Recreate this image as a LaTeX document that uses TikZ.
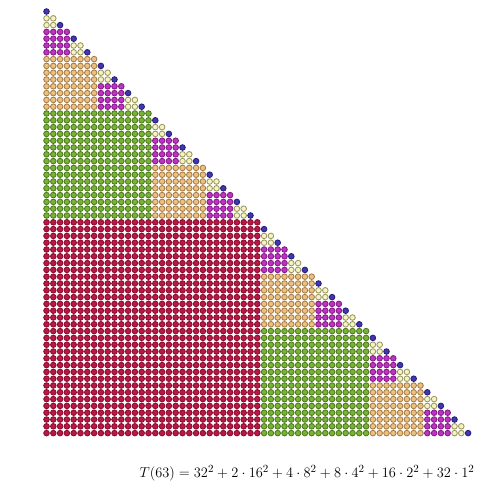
\documentclass[tikz,border=0pt]{standalone}
\definecolor{cRed}{HTML}{B81845}
\definecolor{cRedD}{HTML}{8A0C2E}
\definecolor{cGrn}{HTML}{7AB236}
\definecolor{cGrnD}{HTML}{4A7A1C}
\definecolor{cTan}{HTML}{EBC080}
\definecolor{cTanD}{HTML}{A67C46}
\definecolor{cMag}{HTML}{BC34C0}
\definecolor{cMagD}{HTML}{85188A}
\definecolor{cCrm}{HTML}{F5F3C0}
\definecolor{cCrmD}{HTML}{99975F}
\definecolor{cBlu}{HTML}{4138AE}
\definecolor{cBluD}{HTML}{261D80}
\tikzset{
  dotred/.style={fill=cRed,draw=cRedD,line width=0.85pt},
  dotgrn/.style={fill=cGrn,draw=cGrnD,line width=0.85pt},
  dottan/.style={fill=cTan,draw=cTanD,line width=0.85pt},
  dotmag/.style={fill=cMag,draw=cMagD,line width=0.85pt},
  dotcrm/.style={fill=cCrm,draw=cCrmD,line width=0.85pt},
  dotblu/.style={fill=cBlu,draw=cBluD,line width=0.85pt},
  eqtext/.style={inner sep=0pt,font=\fontsize{15}{18}\selectfont}
}
\begin{document}
\begin{tikzpicture}[x=1pt,y=-1pt]
\useasboundingbox (0,0) rectangle (500,499);
\foreach \s/\col in {32/red,16/grn,8/tan,4/mag,2/crm,1/blu}{
  \pgfmathtruncatemacro{\nj}{32/\s-1}
  \foreach \j in {0,...,\nj}{
    \pgfmathtruncatemacro{\o}{\j*2*\s}
    \foreach \a in {1,...,\s}{
      \foreach \b in {1,...,\s}{
        \path[dot\col] ({46.5+(\o+\b-1)*6.8},{11.5+(\o+\s+\a-2)*6.8}) circle (2.8);
      }
    }
  }
}
\node[eqtext] (eq) at (307,473) {$T(63)=32^2+2\cdot16^2+4\cdot8^2+8\cdot4^2+16\cdot2^2+32\cdot1^2$};
\end{tikzpicture}
\end{document}
